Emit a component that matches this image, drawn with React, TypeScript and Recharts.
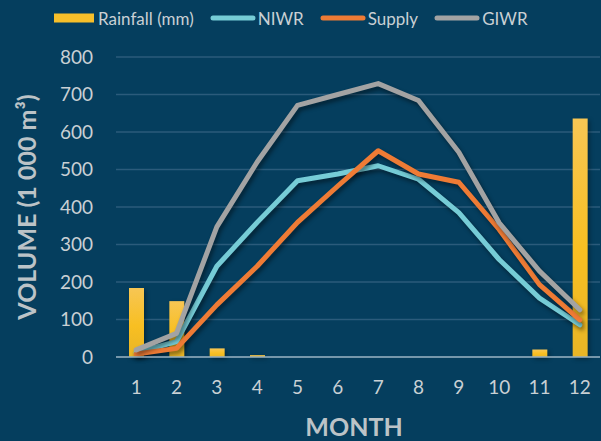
import React from 'react';
import { ComposedChart, Bar, Line, XAxis, YAxis, CartesianGrid, Legend } from 'recharts';

const months = ['1', '2', '3', '4', '5', '6', '7', '8', '9', '10', '11', '12'];
const rainfall = [184, 149, 23, 5, 0, 0, 0, 0, 0, 0, 20, 636];
const niwr = [12, 41, 242, 359, 470, 488, 510, 474, 385, 260, 157, 86];
const supply = [8, 23, 139, 242, 359, 456, 550, 488, 466, 340, 193, 99];
const giwr = [19, 63, 347, 520, 671, 700, 729, 684, 546, 358, 229, 126];
const yTicks = [0, 100, 200, 300, 400, 500, 600, 700, 800];

const data = months.map((m, i) => ({
  month: m,
  rainfall: rainfall[i],
  niwr: niwr[i],
  supply: supply[i],
  giwr: giwr[i],
}));

const BG = '#053e5e';
const TEXT = '#c9d0d4';
const LABEL = '#bcc3c7';
const FONT = 'Lato, "Open Sans", sans-serif';
const GOLD = '#f7bf2a';
const CYAN = '#76ccd6';
const ORANGE = '#ee7b35';
const GREY = '#a3a3a3';

const legendItems = [
  { name: 'Rainfall (mm)', color: GOLD, type: 'rect' },
  { name: 'NIWR', color: CYAN, type: 'line' },
  { name: 'Supply', color: ORANGE, type: 'line' },
  { name: 'GIWR', color: GREY, type: 'line' },
];

const renderLegend = () => (
  <div
    style={{
      display: 'flex',
      alignItems: 'center',
      paddingLeft: 54,
      gap: 16,
      fontFamily: FONT,
      fontSize: 17,
      color: TEXT,
      height: 28,
    }}
  >
    {legendItems.map((it) => (
      <div key={it.name} style={{ display: 'flex', alignItems: 'center' }}>
        {it.type === 'rect' ? (
          <svg width={40} height={10} style={{ marginRight: 4 }}>
            <rect x={0} y={0.5} width={40} height={9} fill={it.color} />
          </svg>
        ) : (
          <svg width={46} height={8} style={{ marginRight: 2 }}>
            <line x1={3} y1={4} x2={43} y2={4} stroke={it.color} strokeWidth={5} strokeLinecap="round" />
          </svg>
        )}
        <span>{it.name}</span>
      </div>
    ))}
  </div>
);

const YLabel = () => (
  <text
    x={26}
    y={207}
    transform="rotate(-90, 26, 207)"
    textAnchor="middle"
    dominantBaseline="central"
    fill={LABEL}
    fontFamily={FONT}
    fontWeight={700}
    fontSize={25}
  >
    VOLUME (1 000 m³)
  </text>
);

const XLabel = (props: any) => {
  const vb = props.viewBox || {};
  return (
    <text
      x={(vb.x || 0) + (vb.width || 0) / 2 - 4}
      y={436}
      textAnchor="middle"
      fill={LABEL}
      fontFamily={FONT}
      fontWeight={700}
      fontSize={25}
    >
      MONTH
    </text>
  );
};

export default function App() {
  return (
    <div style={{ position: 'absolute', left: 0, top: 0, width: 601, height: 441, background: BG }}>
      <style>{`.recharts-line-curve{filter:drop-shadow(2px 3px 2px rgba(0,0,0,0.45));} .recharts-bar-rectangle path{filter:drop-shadow(2px 2px 2px rgba(0,0,0,0.35));}`}</style>
      <ComposedChart
        width={601}
        height={441}
        data={data}
        margin={{ top: 57, right: 1, bottom: 4, left: 0 }}
      >
        <defs>
          <linearGradient id="barGrad" x1="0" y1="0" x2="0" y2="1">
            <stop offset="0%" stopColor="#f7c654" />
            <stop offset="55%" stopColor="#f8bf22" />
            <stop offset="100%" stopColor="#e8b526" />
          </linearGradient>
        </defs>
        <CartesianGrid vertical={false} stroke="#2b5b7b" strokeWidth={1.5} />
        <XAxis
          dataKey="month"
          height={80}
          tickSize={0}
          tickMargin={24}
          axisLine={{ stroke: '#93aebe', strokeWidth: 1.5 }}
          tick={{ fill: TEXT, fontFamily: FONT, fontSize: 19 }}
          interval={0}
          label={<XLabel />}
        />
        <YAxis
          width={116}
          domain={[0, 800]}
          ticks={yTicks}
          tickSize={0}
          tickMargin={23}
          axisLine={false}
          tick={{ fill: TEXT, fontFamily: FONT, fontSize: 19 }}
          label={<YLabel />}
        />
        <Legend
          verticalAlign="middle"
          align="center"
          layout="horizontal"
          content={renderLegend}
          wrapperStyle={{ top: 4, left: 0, width: 601 }}
        />
        <Bar dataKey="rainfall" name="Rainfall (mm)" fill="url(#barGrad)" barSize={15} isAnimationActive={false} />
        <Line dataKey="niwr" name="NIWR" stroke={CYAN} strokeWidth={5} dot={false} strokeLinejoin="round" strokeLinecap="round" isAnimationActive={false} />
        <Line dataKey="supply" name="Supply" stroke={ORANGE} strokeWidth={5} dot={false} strokeLinejoin="round" strokeLinecap="round" isAnimationActive={false} />
        <Line dataKey="giwr" name="GIWR" stroke={GREY} strokeWidth={5} dot={false} strokeLinejoin="round" strokeLinecap="round" isAnimationActive={false} />
      </ComposedChart>
    </div>
  );
}
